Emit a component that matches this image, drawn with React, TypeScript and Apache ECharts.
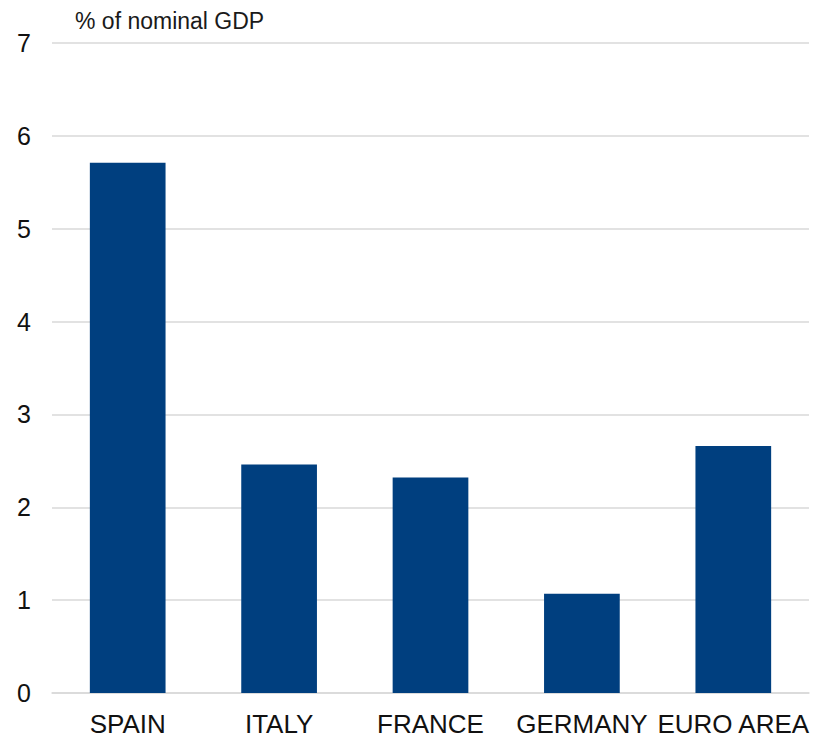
import React, { useEffect, useRef } from "react";
import * as echarts from "echarts";

const categories = ["SPAIN", "ITALY", "FRANCE", "GERMANY", "EURO AREA"];
const values = [5.71, 2.46, 2.32, 1.07, 2.66];
const yTicks = { min: 0, max: 7, interval: 1 };
const unitLabel = "% of nominal GDP";

const FONT = "'Liberation Sans', Arial, Helvetica, sans-serif";

export default function App() {
  const ref = useRef<HTMLDivElement>(null);
  useEffect(() => {
    if (!ref.current) return;
    const chart = echarts.init(ref.current, undefined, { renderer: "svg" });
    chart.setOption({
      animation: false,
      backgroundColor: "#ffffff",
      textStyle: { fontFamily: FONT },
      grid: { left: 52, right: 6, top: 43, bottom: 45, containLabel: false },
      graphic: [
        {
          type: "text",
          left: 75,
          top: 9,
          style: { text: unitLabel, fontSize: 23, fontFamily: FONT, fill: "#1a1a1a" },
        },
      ],
      xAxis: {
        type: "category",
        data: categories,
        axisLine: { show: true, lineStyle: { color: "#d9d9d9", width: 1.5 } },
        axisTick: { show: false },
        axisLabel: { interval: 0, fontSize: 26, color: "#111", margin: 18, fontFamily: FONT },
      },
      yAxis: {
        type: "value",
        min: yTicks.min,
        max: yTicks.max,
        interval: yTicks.interval,
        axisLine: { show: false },
        axisTick: { show: false },
        axisLabel: { fontSize: 25, color: "#111", margin: 21, fontFamily: FONT },
        splitLine: { show: true, lineStyle: { color: "#d9d9d9", width: 1.5 } },
      },
      series: [
        {
          type: "bar",
          data: values,
          barCategoryGap: "50%",
          itemStyle: { color: "#003F7F" },
        },
      ],
    });
    return () => chart.dispose();
  }, []);
  return <div ref={ref} style={{ width: 815, height: 738, position: "absolute", left: 0, top: 0 }} />;
}
